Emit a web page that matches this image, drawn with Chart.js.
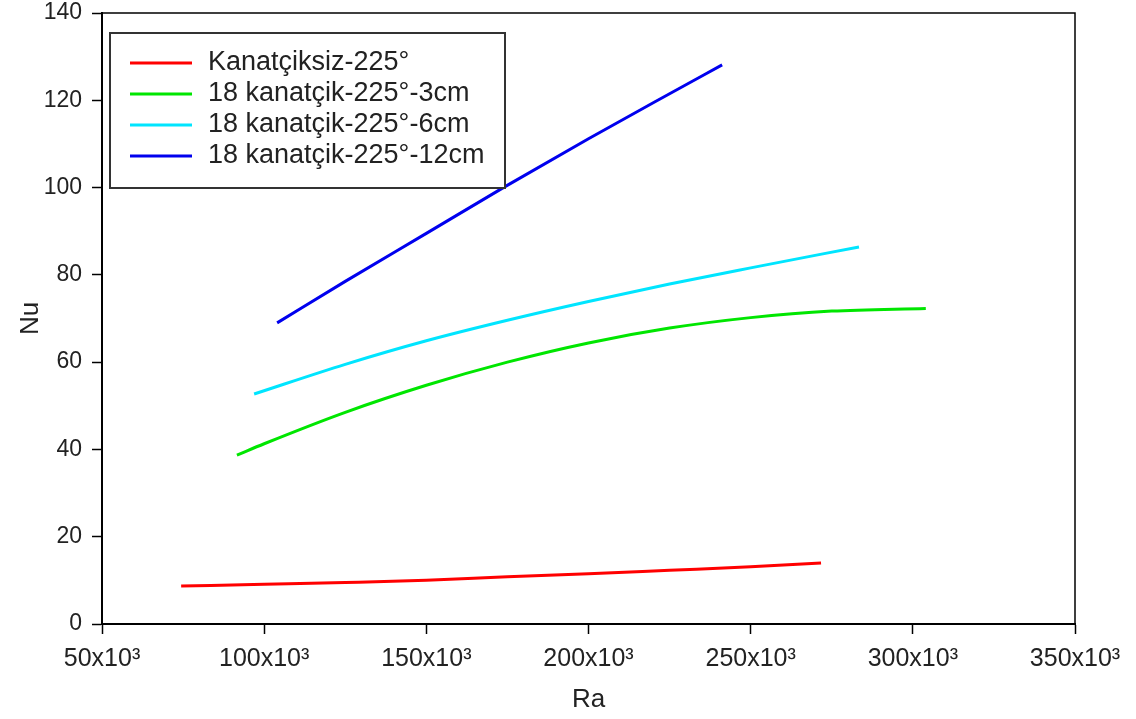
<!DOCTYPE html>
<html>
<head>
    <meta charset="utf-8">
    <title>Nu - Ra</title>
    <script src="https://cdn.jsdelivr.net/npm/chart.js@4.4.1/dist/chart.umd.min.js"></script>
    <style>
        html, body { margin: 0; padding: 0; background: #fff; }
        #wrap { position: relative; width: 1136px; height: 719px; }
    </style>
</head>
<body>
    <div id="wrap">
        <canvas id="canvas"></canvas>
    </div>
    <script>
        // series names
        const labels = ['Kanatçiksiz-225°', '18 kanatçik-225°-3cm', '18 kanatçik-225°-6cm', '18 kanatçik-225°-12cm'];
        const colors = ['#ff0000', '#00e600', '#00e5ff', '#0000ee'];

        // Ra (x) and Nu (y)
        const raRed = [74400, 100000, 125000, 150000, 175000, 200000, 225000, 250000, 271700];
        const nuRed = [8.7, 9.1, 9.5, 10.0, 10.8, 11.5, 12.3, 13.1, 14.0];

        const raGreen = [91600, 100000, 125000, 150000, 175000, 200000, 225000, 250000, 275000, 304000];
        const nuGreen = [38.7, 41.3, 48.5, 54.7, 60.0, 64.4, 67.8, 70.2, 71.7, 72.3];

        const raCyan = [96900, 125000, 150000, 175000, 200000, 225000, 250000, 283400];
        const nuCyan = [52.7, 59.5, 64.9, 69.6, 73.9, 77.9, 81.6, 86.4];

        const raBlue = [104000, 125000, 150000, 174000, 200000, 225000, 241200];
        const nuBlue = [69.0, 78.5, 89.5, 100.1, 111.2, 121.5, 128.1];

        const xTicks = [50000, 100000, 150000, 200000, 250000, 300000, 350000];
        const yTicks = [0, 20, 40, 60, 80, 100, 120, 140];

        const FONT = '"Liberation Sans", Arial, sans-serif';

        function pts(xs, ys) {
            return xs.map((x, i) => ({ x: x, y: ys[i] }));
        }

        const series = [[raRed, nuRed], [raGreen, nuGreen], [raCyan, nuCyan], [raBlue, nuBlue]];
        const datasets = series.map((s, i) => ({
            label: labels[i],
            data: pts(s[0], s[1]),
            borderColor: colors[i],
            backgroundColor: colors[i],
            borderWidth: 3,
            pointRadius: 0,
            tension: 0.4,
            cubicInterpolationMode: 'monotone',
            fill: false
        }));

        // frame on top/right + boxed legend in the upper left
        const framePlugin = {
            id: 'frame',
            afterDraw(chart) {
                const ctx = chart.ctx;
                const a = chart.chartArea;
                ctx.save();
                ctx.strokeStyle = '#000';
                ctx.lineWidth = 1.5;
                ctx.beginPath();
                ctx.moveTo(a.left, a.top);
                ctx.lineTo(a.right, a.top);
                ctx.lineTo(a.right, a.bottom);
                ctx.stroke();

                // legend
                const bx = a.left + 8, by = a.top + 20, bw = 395, bh = 155;
                ctx.lineWidth = 2;
                ctx.strokeStyle = '#333';
                ctx.fillStyle = '#fff';
                ctx.fillRect(bx, by, bw, bh);
                ctx.strokeRect(bx, by, bw, bh);
                ctx.font = '27px ' + FONT;
                ctx.textBaseline = 'middle';
                chart.data.datasets.forEach((ds, i) => {
                    const y = by + 30 + i * 31;
                    ctx.strokeStyle = ds.borderColor;
                    ctx.lineWidth = 3;
                    ctx.beginPath();
                    ctx.moveTo(bx + 20, y);
                    ctx.lineTo(bx + 82, y);
                    ctx.stroke();
                    ctx.fillStyle = '#222';
                    ctx.fillText(ds.label, bx + 98, y);
                });
                ctx.restore();
            }
        };

        new Chart(document.getElementById('canvas'), {
            type: 'line',
            data: { datasets: datasets },
            plugins: [framePlugin],
            options: {
                responsive: true,
                maintainAspectRatio: false,
                animation: false,
                layout: { padding: { top: 13, right: 61, bottom: 0, left: 0 } },
                plugins: {
                    legend: { display: false },
                    tooltip: { enabled: false }
                },
                scales: {
                    x: {
                        type: 'linear',
                        min: 50000,
                        max: 350000,
                        afterBuildTicks: (s) => { s.ticks = xTicks.map(v => ({ value: v })); },
                        afterFit: (s) => { s.height = 95; s.paddingLeft = 0; s.paddingRight = 0; },
                        border: { display: true, color: '#000', width: 2 },
                        grid: { display: true, drawOnChartArea: false, drawTicks: true, tickLength: 10, tickColor: '#000', tickWidth: 1.5 },
                        ticks: {
                            color: '#222',
                            font: { family: FONT, size: 25 },
                            padding: 10,
                            maxRotation: 0,
                            callback: (v) => (v / 1000) + 'x10³'
                        },
                        title: {
                            display: true,
                            text: 'Ra',
                            color: '#222',
                            font: { family: FONT, size: 26 },
                            padding: { top: 0, bottom: 4 }
                        }
                    },
                    y: {
                        min: 0,
                        max: 140,
                        afterBuildTicks: (s) => { s.ticks = yTicks.map(v => ({ value: v })); },
                        afterFit: (s) => { s.width = 102; s.paddingTop = 0; s.paddingBottom = 0; },
                        border: { display: true, color: '#000', width: 2 },
                        grid: { display: true, drawOnChartArea: false, drawTicks: true, tickLength: 10, tickColor: '#000', tickWidth: 1.5 },
                        ticks: {
                            color: '#222',
                            font: { family: FONT, size: 23 },
                            padding: 10
                        },
                        title: {
                            display: true,
                            text: 'Nu',
                            color: '#222',
                            font: { family: FONT, size: 26 },
                            padding: { top: 15, bottom: 0 }
                        }
                    }
                }
            }
        });
    </script>
</body>
</html>
